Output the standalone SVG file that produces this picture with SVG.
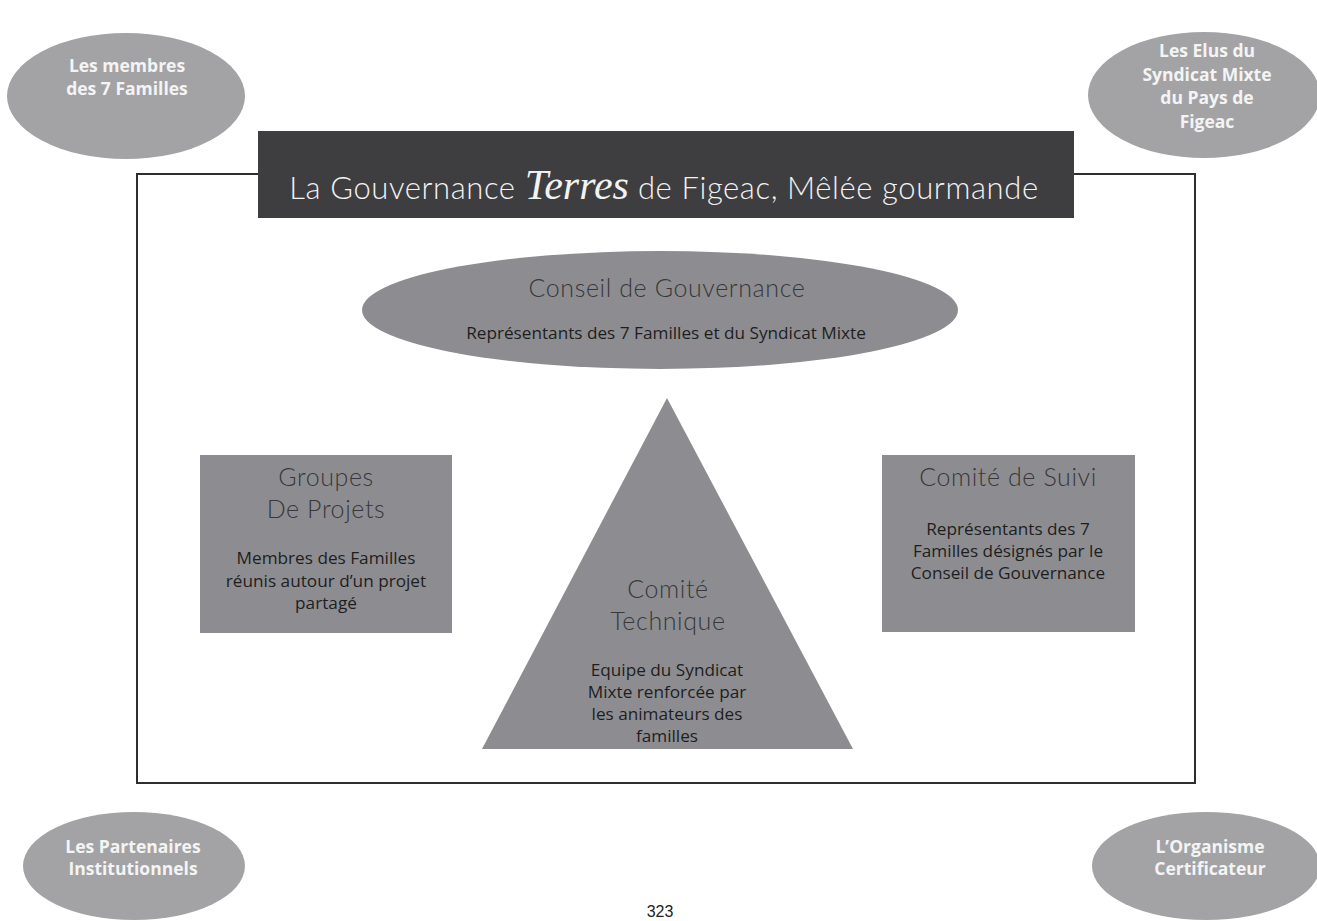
<svg xmlns="http://www.w3.org/2000/svg" width="1317" height="921" viewBox="0 0 1317 921">
<style>
.outer{fill:#a3a3a6}
.inner{fill:#8d8d91}
.ot{font-family:"Open Sans","Noto Sans",sans-serif;font-weight:700;font-size:17.5px;fill:#f4f4f4;text-anchor:middle}
.h{font-family:Lato,"Noto Sans",sans-serif;font-weight:300;font-size:25px;letter-spacing:0.6px;fill:#38383a;text-anchor:middle}
.b{font-family:"Open Sans","Noto Sans",sans-serif;font-weight:400;font-size:17.2px;fill:#1e1e1e;text-anchor:middle}
</style>
<rect width="1317" height="921" fill="#ffffff"/>
<g id="frame"><rect x="137" y="174" width="1058" height="609" fill="none" stroke="#2e2e2e" stroke-width="2"/></g>
<g id="membres"><ellipse class="outer" cx="126" cy="96" rx="119" ry="63"/>
<text class="ot" x="127" y="72">Les membres</text><text class="ot" x="127" y="95">des 7 Familles</text></g>
<g id="elus"><ellipse class="outer" cx="1204" cy="95" rx="116" ry="63"/>
<text class="ot" x="1207" y="57">Les Elus du</text><text class="ot" x="1207" y="81">Syndicat Mixte</text><text class="ot" x="1207" y="104">du Pays de</text><text class="ot" x="1207" y="128">Figeac</text></g>
<g id="title"><rect x="258" y="131" width="816" height="87" fill="#3e3e40"/>
<text x="664" y="199" font-family="Lato,'Noto Sans',sans-serif" font-weight="300" font-size="31" letter-spacing="0.6" fill="#f2f2f2" text-anchor="middle">La Gouvernance <tspan font-family="'Liberation Serif',serif" font-style="italic" font-size="42" letter-spacing="0">Terres</tspan> de Figeac, Mêlée gourmande</text></g>
<g id="conseil"><ellipse class="inner" cx="660" cy="310" rx="298" ry="59"/>
<text class="h" x="667" y="297">Conseil de Gouvernance</text>
<text class="b" x="666" y="339">Représentants des 7 Familles et du Syndicat Mixte</text></g>
<g id="groupes"><rect class="inner" x="200" y="455" width="252" height="178"/>
<text class="h" x="326" y="486">Groupes</text><text class="h" x="326" y="518">De Projets</text>
<text class="b" x="326" y="564">Membres des Familles</text><text class="b" x="326" y="587">réunis autour d’un projet</text><text class="b" x="326" y="609">partagé</text></g>
<g id="suivi"><rect class="inner" x="882" y="455" width="253" height="177"/>
<text class="h" x="1008" y="486">Comité de Suivi</text>
<text class="b" x="1008" y="535">Représentants des 7</text><text class="b" x="1008" y="557">Familles désignés par le</text><text class="b" x="1008" y="579">Conseil de Gouvernance</text></g>
<g id="technique"><polygon class="inner" points="667,398 853,749 482,749"/>
<text class="h" x="668" y="598">Comité</text><text class="h" x="668" y="630">Technique</text>
<text class="b" x="667" y="676">Equipe du Syndicat</text><text class="b" x="667" y="698">Mixte renforcée par</text><text class="b" x="667" y="720">les animateurs des</text><text class="b" x="667" y="742">familles</text></g>
<g id="partenaires"><ellipse class="outer" cx="134" cy="866" rx="111" ry="54"/>
<text class="ot" x="133" y="853">Les Partenaires</text><text class="ot" x="133" y="875">Institutionnels</text></g>
<g id="organisme"><ellipse class="outer" cx="1206" cy="866" rx="114" ry="54"/>
<text class="ot" x="1210" y="853">L’Organisme</text><text class="ot" x="1210" y="875">Certificateur</text></g>
<g id="connectors"/>
<text x="660" y="917" font-family="'Liberation Sans',sans-serif" font-size="16" fill="#222" text-anchor="middle">323</text>
</svg>
